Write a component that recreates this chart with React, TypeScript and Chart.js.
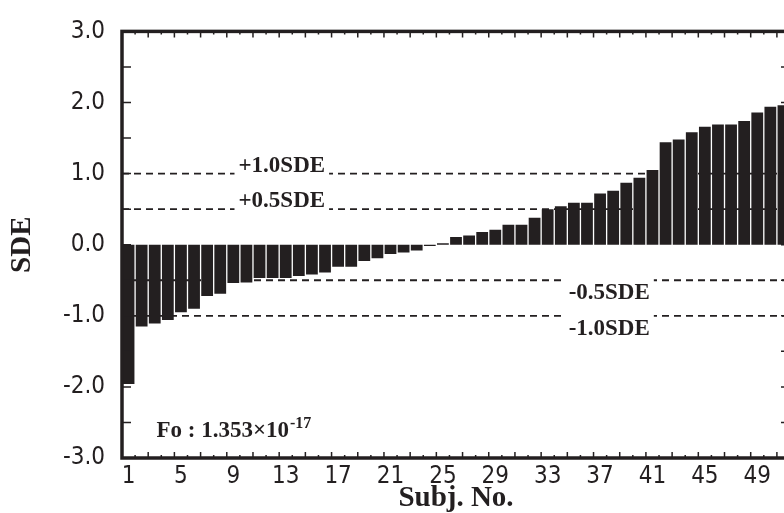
import React, { useEffect, useRef } from 'react';
import { Chart, registerables } from 'chart.js';

Chart.register(...registerables);

const INK = '#231f20';
const SERIF = '"Liberation Serif", "Times New Roman", serif';
const NARROW = '"Liberation Sans Narrow", "DejaVu Sans Condensed", "Noto Sans", sans-serif';

const subjects = [
  1, 2, 3, 4, 5, 6, 7, 8, 9, 10, 11, 12, 13, 14, 15, 16, 17, 18, 19, 20, 21, 22, 23, 24, 25,
  26, 27, 28, 29, 30, 31, 32, 33, 34, 35, 36, 37, 38, 39, 40, 41, 42, 43, 44, 45, 46, 47, 48, 49, 50, 51,
];
const sdeValues = [
  -1.96, -1.15, -1.11, -1.06, -0.95, -0.9, -0.72, -0.69, -0.54, -0.53, -0.47, -0.47, -0.47, -0.44, -0.42,
  -0.39, -0.31, -0.31, -0.23, -0.19, -0.13, -0.11, -0.08, -0.02, 0.02, 0.11, 0.13, 0.18, 0.21, 0.28, 0.28,
  0.38, 0.5, 0.54, 0.59, 0.59, 0.72, 0.76, 0.87, 0.94, 1.05, 1.44, 1.48, 1.58, 1.66, 1.69, 1.69, 1.74,
  1.86, 1.94, 1.96,
];
const xTickLabels = [1, 5, 9, 13, 17, 21, 25, 29, 33, 37, 41, 45, 49];
const yTickLabels = [-3, -2, -1, 0, 1, 2, 3];
const yMarkValues = [-2.5, -2, -1.5, -1, -0.5, 0, 0.5, 1, 1.5, 2, 2.5];
const refLevels = [1.0, 0.5, -0.5, -1.0];
const refTexts = ['+1.0SDE', '+0.5SDE', '-0.5SDE', '-1.0SDE'];
const refLabelAt = [12.7, 12.7, 37.7, 37.7];
const foText = 'Fo : 1.353×10';
const foExponent = '-17';
const foAt = { x: 3.13, y: -2.7 };

const decorPlugin = {
  id: 'decor',
  beforeDatasetsDraw(chart: any) {
    const { ctx, chartArea: a, scales } = chart;
    const y = scales.y;
    ctx.save();
    ctx.beginPath();
    ctx.rect(a.left, a.top, a.right - a.left, a.bottom - a.top);
    ctx.clip();
    ctx.setLineDash([7, 5]);
    ctx.lineWidth = 1.8;
    ctx.strokeStyle = INK;
    refLevels.forEach((v) => {
      const py = y.getPixelForValue(v);
      ctx.beginPath();
      ctx.moveTo(a.left, py);
      ctx.lineTo(a.right, py);
      ctx.stroke();
    });
    ctx.restore();
  },
  afterDatasetsDraw(chart: any) {
    const { ctx, chartArea: a, scales } = chart;
    const x = scales.x;
    const y = scales.y;
    ctx.save();
    // reference labels
    ctx.font = `bold 23px ${SERIF}`;
    ctx.textBaseline = 'alphabetic';
    ctx.textAlign = 'left';
    refLevels.forEach((v, i) => {
      const text = refTexts[i];
      const w = ctx.measureText(text).width;
      const cx = x.getPixelForValue(refLabelAt[i]);
      const py = y.getPixelForValue(v);
      const positive = v > 0;
      const base = positive ? py - 2 : py + 19;
      ctx.fillStyle = '#ffffff';
      if (positive) {
        ctx.fillRect(cx - w / 2 - 4, base - 18, w + 8, py + 3 - (base - 18));
      } else {
        ctx.fillRect(cx - w / 2 - 4, py - 3, w + 8, base + 4 - (py - 3));
      }
      ctx.fillStyle = INK;
      ctx.fillText(text, cx - w / 2, base);
    });

    // Fo annotation
    const fx = x.getPixelForValue(foAt.x);
    const fy = y.getPixelForValue(foAt.y);
    ctx.font = `bold 23px ${SERIF}`;
    ctx.fillStyle = INK;
    ctx.fillText(foText, fx, fy);
    const fw = ctx.measureText(foText).width;
    ctx.font = `bold 16px ${SERIF}`;
    ctx.fillText(foExponent, fx + fw + 1, fy - 9);

    // tick marks
    ctx.strokeStyle = INK;
    ctx.lineWidth = 1.5;
    ctx.setLineDash([]);
    yMarkValues.forEach((v) => {
      const py = y.getPixelForValue(v);
      ctx.beginPath();
      ctx.moveTo(a.left, py);
      ctx.lineTo(a.left + 9, py);
      ctx.moveTo(a.right, py);
      ctx.lineTo(a.right - 9, py);
      ctx.stroke();
    });
    subjects.slice(0, -1).forEach((s) => {
      const px = x.getPixelForValue(s + 0.5);
      const len = s % 2 === 0 ? 6 : 3;
      ctx.beginPath();
      ctx.moveTo(px, a.bottom);
      ctx.lineTo(px, a.bottom - len);
      ctx.moveTo(px, a.top);
      ctx.lineTo(px, a.top + len);
      ctx.stroke();
    });

    // frame
    ctx.lineWidth = 3.5;
    ctx.strokeRect(a.left, a.top, a.right - a.left, a.bottom - a.top);
    ctx.restore();
  },
};

export default function App() {
  const canvasRef = useRef<HTMLCanvasElement | null>(null);

  useEffect(() => {
    document.body.style.margin = '0';
    const canvas = canvasRef.current;
    if (!canvas) return;
    const chart = new Chart(canvas, {
      type: 'bar',
      data: {
        datasets: [
          {
            data: subjects.map((s, i) => ({ x: s, y: sdeValues[i] })),
            backgroundColor: INK,
            borderWidth: 0,
            barPercentage: 0.9,
            categoryPercentage: 1.0,
          },
        ],
      },
      options: {
        animation: false,
        responsive: true,
        maintainAspectRatio: false,
        layout: { padding: { top: 26, right: 10, bottom: 0, left: 0 } },
        plugins: { legend: { display: false }, tooltip: { enabled: false } },
        scales: {
          x: {
            type: 'linear',
            min: 0.5,
            max: 51.5,
            offset: false,
            grid: { display: false, drawTicks: false },
            border: { display: false },
            afterBuildTicks: (scale: any) => {
              scale.ticks = xTickLabels.map((v) => ({ value: v }));
            },
            afterFit: (scale: any) => {
              scale.height = 55;
            },
            ticks: {
              autoSkip: false,
              maxRotation: 0,
              padding: 4,
              color: INK,
              font: { family: NARROW, size: 24 },
              callback: (v: any) => String(v),
            },
            title: {
              display: true,
              text: 'Subj. No.',
              color: INK,
              font: { family: SERIF, size: 29, weight: 'bold' },
              padding: { top: 0, bottom: -3 },
            },
          },
          y: {
            type: 'linear',
            min: -3,
            max: 3,
            grid: { display: false, drawTicks: false },
            border: { display: false },
            afterBuildTicks: (scale: any) => {
              scale.ticks = yTickLabels.map((v) => ({ value: v }));
            },
            afterFit: (scale: any) => {
              scale.width = 122;
            },
            ticks: {
              padding: 17,
              color: INK,
              font: { family: NARROW, size: 24 },
              callback: (v: any) => Number(v).toFixed(1),
            },
            title: {
              display: true,
              text: 'SDE',
              color: INK,
              font: { family: SERIF, size: 29, weight: 'bold' },
              padding: { top: 5, bottom: 0 },
            },
          },
        },
      },
      plugins: [decorPlugin],
    });
    return () => chart.destroy();
  }, []);

  return (
    <div style={{ width: 784, height: 513, overflow: 'hidden', position: 'relative', background: '#fff' }}>
      <div style={{ width: 800, height: 513, position: 'relative' }}>
        <canvas ref={canvasRef} />
      </div>
    </div>
  );
}
